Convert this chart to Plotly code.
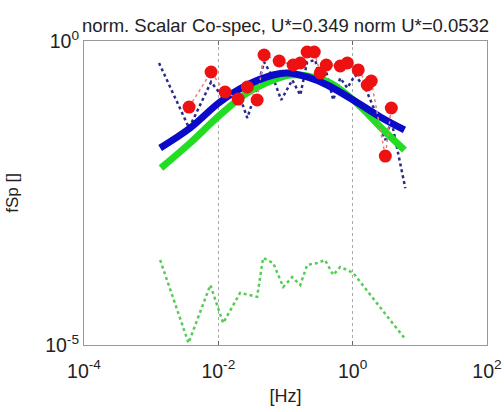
import plotly.graph_objects as go

# ---- data ----
freq_raw = [0.00131, 0.00367, 0.0078, 0.0126, 0.0197, 0.027, 0.0378, 0.048, 0.0656,
            0.0863, 0.126, 0.166, 0.21, 0.277, 0.329, 0.405, 0.514, 0.653, 0.832,
            1.09, 1.59, 2.03, 3.06, 3.76, 6.08]
cospec_raw = [0.435, 0.037, 0.212, 0.107, 0.145, 0.0542, 0.169, 0.452, 0.246,
              0.107, 0.228, 0.129, 0.452, 0.487, 0.228, 0.309, 0.107, 0.246, 0.169,
              0.276, 0.156, 0.082, 0.0235, 0.050, 0.0038]

freq_bin = [0.00367, 0.0078, 0.0126, 0.0197, 0.027, 0.0378, 0.048, 0.0805, 0.13,
            0.166, 0.21, 0.268, 0.329, 0.405, 0.653, 0.832, 1.21, 1.65, 1.89, 3.06, 3.76]
cospec_bin = [0.082, 0.309, 0.145, 0.111, 0.175, 0.107, 0.589, 0.469, 0.403,
              0.435, 0.659, 0.659, 0.298, 0.403, 0.388, 0.435, 0.334, 0.189, 0.220,
              0.0128, 0.079]

freq_model = [0.00136, 0.0038, 0.0106, 0.027, 0.0656, 0.106, 0.21, 0.418, 1.02, 2.58, 5.9]
model_blue = [0.0174, 0.0371, 0.0993, 0.189, 0.276, 0.298, 0.256, 0.189, 0.107, 0.0562, 0.0344]

freq_model2 = [0.0014, 0.0038, 0.0106, 0.027, 0.0656, 0.118, 0.21, 0.46, 1.15, 2.58, 5.9]
model_green = [0.00815, 0.021, 0.0607, 0.140, 0.228, 0.276, 0.266, 0.204, 0.0955, 0.0385, 0.0161]

freq_low = [0.00136, 0.0036, 0.0076, 0.0118, 0.0211, 0.0378, 0.0464, 0.0656, 0.0925,
            0.126, 0.166, 0.21, 0.297, 0.388, 0.514, 0.653, 1.02, 1.9, 3.4, 5.9]
cospec_low = [2.5e-4, 1.08e-5, 9.7e-5, 2.3e-5, 7.2e-5, 6.2e-5, 2.7e-4, 2.23e-4, 9.0e-5,
              1.31e-4, 9.7e-5, 2.07e-4, 2.23e-4, 2.5e-4, 1.42e-4, 1.92e-4, 1.53e-4,
              6.5e-5, 2.8e-5, 1.3e-5]

x_ticks = [1e-4, 1e-2, 1, 1e2]
x_ticktext = ["10<sup>-4</sup>", "10<sup>-2</sup>", "10<sup>0</sup>", "10<sup>2</sup>"]
y_ticks = [1e-5, 1]
y_ticktext = ["10<sup>-5</sup>", "10<sup>0</sup>"]

FONT = "Liberation Sans, Arial, sans-serif"

fig = go.Figure()
fig.add_trace(go.Scatter(x=freq_low, y=cospec_low, mode="lines",
                         line=dict(color="#55cc55", width=2.5, dash="dot")))
fig.add_trace(go.Scatter(x=freq_raw, y=cospec_raw, mode="lines",
                         line=dict(color="#2a2a8c", width=2.5, dash="dot")))
fig.add_trace(go.Scatter(x=freq_model2, y=model_green, mode="lines", line_shape="spline",
                         line=dict(color="#22dd22", width=7)))
fig.add_trace(go.Scatter(x=freq_model, y=model_blue, mode="lines", line_shape="spline",
                         line=dict(color="#0a0ac8", width=7)))
fig.add_trace(go.Scatter(x=freq_bin, y=cospec_bin, mode="lines+markers",
                         line=dict(color="#f07878", width=1.5, dash="dot"),
                         marker=dict(color="#ee1111", size=13)))

fig.update_layout(
    width=504, height=412,
    margin=dict(l=84, r=17, t=41, b=67),
    paper_bgcolor="white", plot_bgcolor="white",
    showlegend=False,
    font=dict(family=FONT, size=19, color="#222"),
    title=dict(text="norm. Scalar Co-spec, U*=0.349 norm U*=0.0532",
               x=0.5, xanchor="center", xref="paper", y=0.937, yanchor="middle",
               font=dict(family=FONT, size=18.5, color="#222")),
)
fig.update_xaxes(type="log", range=[-4, 2], tickvals=x_ticks, ticktext=x_ticktext,
                 showline=True, mirror="ticks", linecolor="#999", linewidth=1.2,
                 ticks="inside", ticklen=4, tickcolor="#666", automargin=False,
                 showgrid=True, gridcolor="#aaa", griddash="dot", gridwidth=1,
                 zeroline=False, ticklabelstandoff=8, tickfont=dict(size=19.5),
                 title=dict(text="[Hz]", standoff=8, font=dict(size=18)))
fig.update_yaxes(type="log", range=[-5, 0], tickvals=y_ticks, ticktext=y_ticktext,
                 showline=True, mirror="ticks", linecolor="#999", linewidth=1.2,
                 ticks="inside", ticklen=4, tickcolor="#666", automargin=False,
                 showgrid=False, zeroline=False, ticklabelstandoff=0, tickfont=dict(size=19.5),
                 title=dict(text="fSp []", standoff=22, font=dict(size=17)))

fig.write_html("out.html")
